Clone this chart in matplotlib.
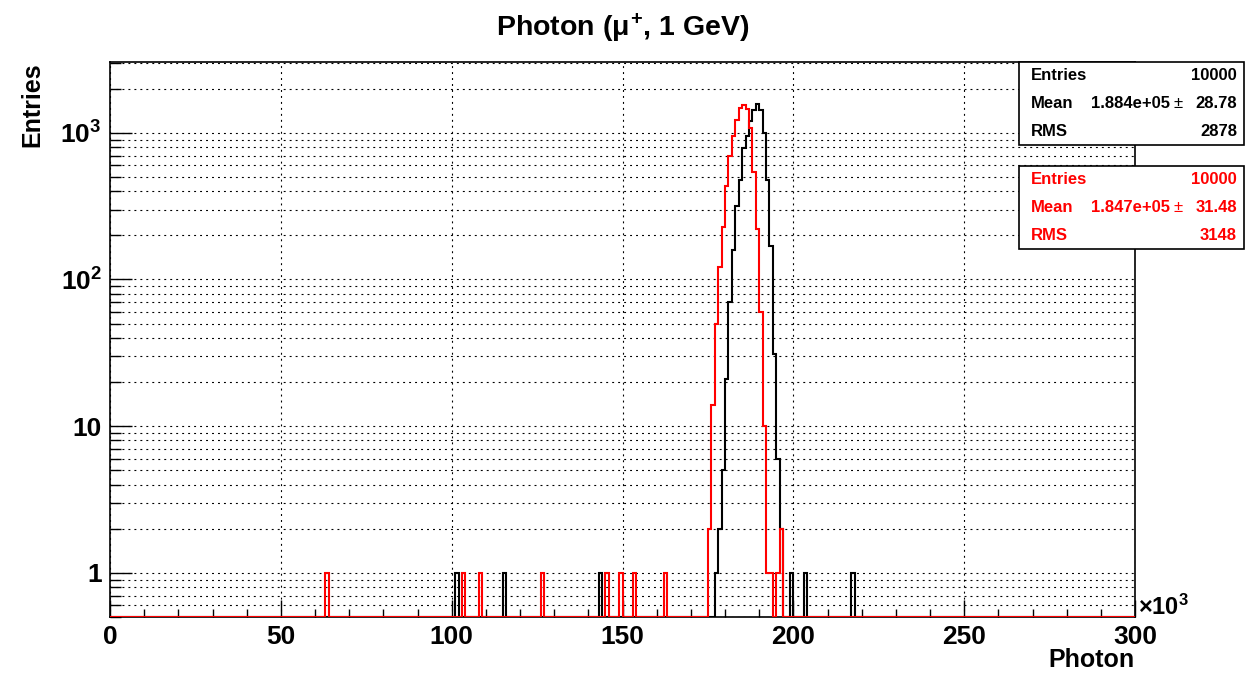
import numpy as np
import matplotlib
matplotlib.use("Agg")
import matplotlib.pyplot as plt
from matplotlib.ticker import FixedLocator, FuncFormatter, NullFormatter
from matplotlib.patches import Rectangle

plt.rcParams['font.family'] = ['Liberation Sans', 'DejaVu Sans']
plt.rcParams['font.weight'] = 'bold'
plt.rcParams['mathtext.fontset'] = 'custom'
plt.rcParams['mathtext.rm'] = 'Liberation Sans:bold'
plt.rcParams['mathtext.bf'] = 'Liberation Sans:bold'
plt.rcParams['mathtext.it'] = 'Liberation Sans'
plt.rcParams['lines.scale_dashes'] = False

# ---------------- data ----------------
bin_width = 1000
n_bins = 300
# black histogram: bin index (k -> [k*1000, (k+1)*1000)) and counts
black_bins = [101, 115, 143, 177, 178, 179, 180, 181, 182, 183, 184, 185, 186,
              187, 188, 189, 190, 191, 192, 193, 194, 195, 196, 199, 203, 217]
black_counts = [1, 1, 1, 1, 2, 5, 21, 70, 158, 315, 480, 790, 955,
                1200, 1430, 1575, 1440, 990, 477, 170, 31, 6, 2, 1, 1, 1]
# red histogram
red_bins = [63, 103, 108, 126, 145, 149, 153, 162, 175, 176, 177, 178, 179, 180,
            181, 182, 183, 184, 185, 186, 187, 188, 189, 190, 191, 192, 193, 195, 196]
red_counts = [1, 1, 1, 1, 1, 1, 1, 1, 2, 14, 50, 122, 228, 435,
              690, 950, 1215, 1480, 1555, 1465, 1075, 540, 221, 60, 10, 1, 1, 1, 2]

x_tick_values = [0, 50, 100, 150, 200, 250, 300]
y_tick_values = [1, 10, 100, 1000]
y_tick_labels = ["1", "10", r"$\mathbf{10^{2}}$", r"$\mathbf{10^{3}}$"]

stats_black = ("10000", "1.884e+05", "28.78", "2878")
stats_red = ("10000", "1.847e+05", "31.48", "3148")

title_text = r"Photon ($\mu^{\mathbf{+}}$, 1 GeV)"
x_title = "Photon"
y_title = "Entries"

y_min, y_max = 0.5, 3040

# ---------------- build ----------------
edges = np.arange(n_bins + 1) * bin_width
black_h = np.zeros(n_bins)
black_h[black_bins] = black_counts
red_h = np.zeros(n_bins)
red_h[red_bins] = red_counts

W, H = 1245, 673
fig = plt.figure(figsize=(W / 100, H / 100), dpi=100)
L, R, T, B = 110, 1135, 62, 617
ax = fig.add_axes([L / W, 1 - B / H, (R - L) / W, (B - T) / H])

ax.set_yscale('log')
ax.set_xlim(0, n_bins * bin_width)
ax.set_ylim(y_min, y_max)

dots = (0, (1.4, 2.9))
ax.xaxis.set_major_locator(FixedLocator([v * 1000 for v in x_tick_values]))
ax.xaxis.set_minor_locator(FixedLocator(np.arange(0, 300001, 10000)))
ax.xaxis.set_major_formatter(FuncFormatter(lambda v, p: "%d" % round(v / 1000)))
ax.yaxis.set_major_locator(FixedLocator(y_tick_values))
ax.yaxis.set_major_formatter(FuncFormatter(
    lambda v, p: y_tick_labels[y_tick_values.index(int(round(v)))] if int(round(v)) in y_tick_values else ""))
minor_y = [m * 10.0 ** d for d in range(-1, 4) for m in range(2, 10)]
ax.yaxis.set_minor_locator(FixedLocator(minor_y))
ax.yaxis.set_minor_formatter(NullFormatter())

ax.grid(True, which='major', axis='x', color='black', lw=0.8, linestyle=dots)
ax.grid(True, which='both', axis='y', color='black', lw=0.8, linestyle=dots)
ax.set_axisbelow(False)

ax.tick_params(axis='both', which='both', direction='in', top=False, right=False,
               width=1.0, labelsize=19, pad=6)
ax.tick_params(axis='x', which='major', length=12)
ax.tick_params(axis='x', which='minor', length=6)
ax.tick_params(axis='y', which='major', length=16)
ax.tick_params(axis='y', which='minor', length=8)
for lab in ax.get_xticklabels() + ax.get_yticklabels():
    lab.set_fontweight('bold')
for s in ax.spines.values():
    s.set_linewidth(1.2)

ax.stairs(np.where(black_h > 0, black_h, y_min), edges, color='black', lw=1.5,
          baseline=None, zorder=3)
ax.stairs(np.where(red_h > 0, red_h, y_min), edges, color='#ff0000', lw=1.5,
          baseline=None, zorder=4)

# titles
fig.text(0.5, 1 - 28 / H, title_text, ha='center', va='center', fontsize=20.5,
         fontweight='bold')
fig.text(R / W, 1 - 660 / H, x_title, ha='right', va='center', fontsize=18,
         fontweight='bold')
fig.text(32 / W, 1 - T / H, y_title, ha='center', va='top', rotation=90,
         fontsize=18, fontweight='bold')
fig.text(1138 / W, 1 - 607 / H, r"$\mathbf{\times 10^{3}}$", ha='left', va='center',
         fontsize=17)

# stat boxes
def stat_box(top, color, vals):
    x0, x1 = 1019, 1244
    h = 83
    fig.patches.append(Rectangle((x0 / W, 1 - (top + h) / H), (x1 - x0) / W, h / H,
                                 transform=fig.transFigure, facecolor='white',
                                 edgecolor='black', lw=1.2, zorder=10))
    rows = [top + 14, top + 42, top + 70]
    kw = dict(fontsize=12, fontweight='bold', color=color, va='center', zorder=11)
    fig.text(1031 / W, 1 - rows[0] / H, "Entries", ha='left', **kw)
    fig.text(1237 / W, 1 - rows[0] / H, vals[0], ha='right', **kw)
    fig.text(1031 / W, 1 - rows[1] / H, "Mean", ha='left', **kw)
    fig.text(1170 / W, 1 - rows[1] / H, vals[1], ha='right', **kw)
    fig.text(1178 / W, 1 - rows[1] / H, "\u00b1", ha='center', fontsize=12,
             fontweight='normal', color=color, va='center', zorder=11)
    fig.text(1237 / W, 1 - rows[1] / H, vals[2], ha='right', **kw)
    fig.text(1031 / W, 1 - rows[2] / H, "RMS", ha='left', **kw)
    fig.text(1237 / W, 1 - rows[2] / H, vals[3], ha='right', **kw)

stat_box(62, 'black', stats_black)
stat_box(166, '#ff0000', stats_red)

fig.savefig("out.png", dpi=100, facecolor='white')
